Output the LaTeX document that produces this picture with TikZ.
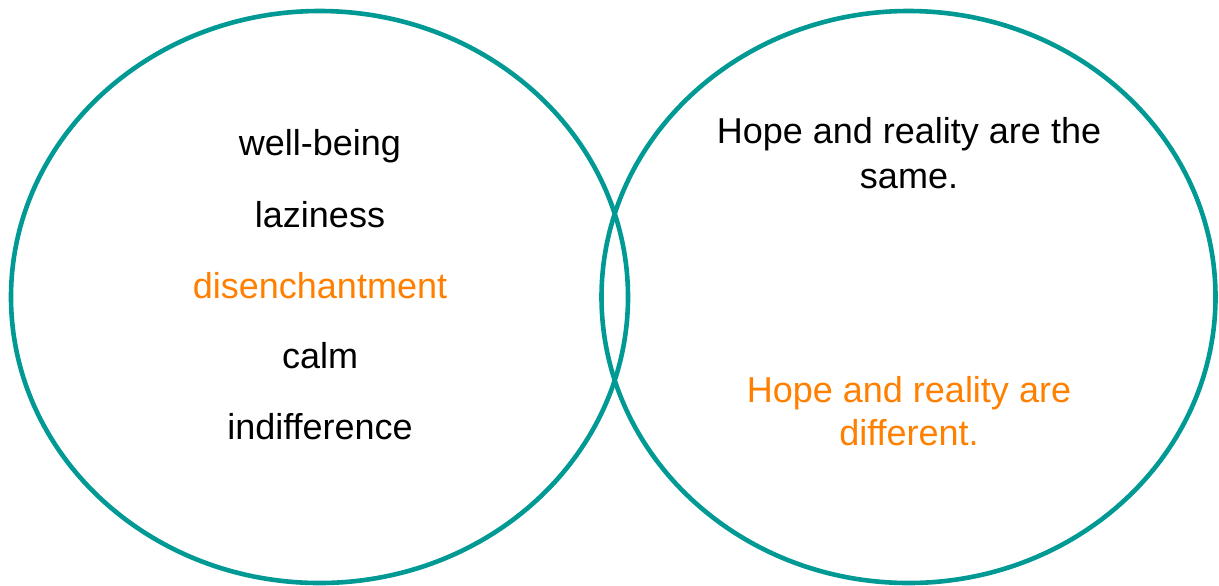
\documentclass[tikz,border=0pt]{standalone}
\usepackage{fontspec}
\setmainfont{Liberation Sans}
\definecolor{tealring}{RGB}{0,153,148}
\definecolor{orng}{RGB}{255,128,0}
\begin{document}
\begin{tikzpicture}[x=0.5pt,y=-0.5pt,
  ring/.style={draw=tealring, line width=2.3pt},
  lbl/.style={font=\fontsize{18}{22.5}\selectfont, anchor=base, inner sep=0pt, text=black},
  hl/.style={lbl, text=orng}]
\useasboundingbox (0,0) rectangle (1219,585);
\draw[ring] (319.5,297) ellipse [x radius=308.5, y radius=286];
\draw[ring] (908.5,297) ellipse [x radius=307, y radius=286];
\node[lbl] (wb) at (320,155) {well-being};
\node[lbl] (lz) at (320,227) {laziness};
\node[hl] (ds) at (320,298) {disenchantment};
\node[lbl] (cm) at (320,368) {calm};
\node[lbl] (id) at (320,439) {indifference};
\node[lbl] (s1) at (909,143) {Hope and reality are the};
\node[lbl] (s2) at (909,188) {same.};
\node[hl] (d1) at (909,402) {Hope and reality are};
\node[hl] (d2) at (909,445) {different.};
\end{tikzpicture}
\end{document}
